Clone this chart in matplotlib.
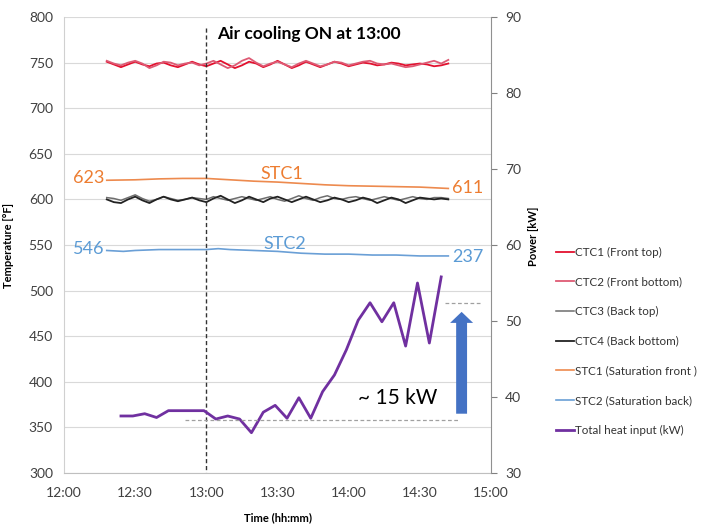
import numpy as np
import matplotlib
matplotlib.use("Agg")
import matplotlib.pyplot as plt

plt.rcParams['font.family'] = ['Lato', 'DejaVu Sans']


def to_min(hhmm):
    """minutes after 12:00 for a 'HH:MM' string"""
    h, m = hhmm.split(":")
    return (int(h) - 12) * 60 + float(m)


# thermocouples, logged every 3 min from 12:18
tc_start = "12:18"
tc_step = 3
ctc1 = [751, 748, 745, 748, 751, 748, 746,
        749, 750, 747, 745, 748, 751, 748,
        746, 749, 752, 748, 744, 747, 751,
        749, 745, 748, 752, 748, 744, 747,
        751, 748, 745, 748, 751, 749, 746,
        748, 750, 749, 747, 748, 750, 749,
        747, 748, 749, 748, 746, 747, 749]
ctc2 = [752, 749, 747, 750, 752, 749, 744,
        747, 751, 750, 747, 749, 750, 747,
        749, 752, 748, 744, 747, 752, 755,
        750, 746, 749, 751, 748, 745, 749,
        752, 749, 746, 748, 751, 750, 747,
        749, 751, 752, 749, 748, 749, 747,
        745, 746, 748, 750, 752, 749, 753]
ctc3 = [602, 601, 599, 602, 605, 601, 598,
        600, 603, 601, 599, 600, 602, 601,
        600, 603, 601, 599, 601, 603, 601,
        599, 601, 603, 600, 598, 601, 604,
        601, 599, 602, 604, 601, 600, 602,
        603, 601, 599, 601, 603, 601, 599,
        601, 603, 601, 600, 602, 602, 601]
ctc4 = [600, 597, 596, 600, 603, 599, 596,
        600, 603, 600, 598, 600, 602, 599,
        597, 601, 604, 600, 596, 599, 603,
        600, 597, 601, 603, 600, 597, 600,
        603, 600, 597, 599, 602, 600, 597,
        599, 602, 600, 596, 599, 602, 600,
        596, 599, 602, 601, 600, 601, 600]

# saturation thermocouples
stc1_times = ["12:18", "12:30", "12:40", "12:50", "13:00", "13:10", "13:20", "13:30",
              "13:40", "13:50", "14:00", "14:10", "14:20", "14:30", "14:42"]
stc1 = [621, 621.5, 622.5, 623, 623, 621.5, 620, 619, 617.5, 616, 615, 614.5, 614, 613.5, 612]
stc2_times = ["12:18", "12:25", "12:30", "12:40", "12:50", "13:00", "13:05", "13:10", "13:20",
              "13:30", "13:40", "13:50", "14:00", "14:10", "14:20", "14:30", "14:42"]
stc2 = [544, 543, 544, 545, 545, 545, 546, 545, 544, 543, 541, 540, 540, 539, 539, 538, 538]

# total heat input (kW)
heat_times = ["12:24", "12:29", "12:34", "12:39", "12:44", "12:49", "12:54", "12:59",
              "13:04", "13:09", "13:14", "13:19", "13:24", "13:29", "13:34", "13:39",
              "13:44", "13:49", "13:54", "13:59", "14:04", "14:09", "14:14", "14:19",
              "14:24", "14:29", "14:34", "14:39"]
heat_kw = [37.5, 37.5, 37.8, 37.3, 38.2, 38.2, 38.2, 38.2, 37.1, 37.5,
           37.1, 35.3, 38.0, 38.9, 37.2, 39.9, 37.2, 40.7, 42.9, 46.2,
           50.1, 52.4, 49.9, 52.4, 46.7, 55.0, 47.1, 55.8]

xticks = ["12:00", "12:30", "13:00", "13:30", "14:00", "14:30", "15:00"]
cooling_on = "13:00"

tc_t = to_min(tc_start) + tc_step * np.arange(len(ctc1))

fig = plt.figure(figsize=(7.06, 5.27), dpi=100)
ax = fig.add_axes([0.0907, 0.1025, 0.6048, 0.8652])
ax2 = ax.twinx()

l1, = ax.plot(tc_t, ctc1, color='#E3102E', lw=1.3, label='CTC1 (Front top)')
l2, = ax.plot(tc_t, ctc2, color='#DE5A74', lw=1.3, label='CTC2 (Front bottom)')
l3, = ax.plot(tc_t, ctc3, color='#6E6E6E', lw=1.1, label='CTC3 (Back top)')
l4, = ax.plot(tc_t, ctc4, color='#222222', lw=1.3, label='CTC4 (Back bottom)')
l5, = ax.plot([to_min(t) for t in stc1_times], stc1, color='#ED8A4E', lw=1.2,
              label='STC1 (Saturation front )')
l6, = ax.plot([to_min(t) for t in stc2_times], stc2, color='#6A9FD6', lw=1.2,
              label='STC2 (Saturation back)')
l7, = ax2.plot([to_min(t) for t in heat_times], heat_kw, color='#7030A0', lw=2.0,
               label='Total heat input (kW)')

ax.set_xlim(0, 180)
ax.set_ylim(300, 800)
ax.set_yticks(np.arange(300, 801, 50))
ax.set_xticks([to_min(t) for t in xticks])
ax.set_xticklabels(xticks)
ax.grid(axis='y', color='#D9D9D9', lw=0.8)
ax.set_axisbelow(True)
ax.tick_params(length=0, labelsize=10, labelcolor='#404040', pad=8)
ax.tick_params(axis='x', pad=10)
for s in ['top', 'right']:
    ax.spines[s].set_visible(False)
ax.spines['left'].set_color('#D0D0D0')
ax.spines['bottom'].set_color('#BFBFBF')

ax2.set_ylim(30, 90)
ax2.set_yticks(np.arange(30, 91, 10))
ax2.tick_params(length=4, color='#808080', labelsize=10, labelcolor='#404040', pad=6)
for s in ['top', 'left', 'bottom']:
    ax2.spines[s].set_visible(False)
ax2.spines['right'].set_color('#909090')

ax.set_ylabel('Temperature [°F]', fontsize=8, fontweight='bold')
ax.yaxis.set_label_coords(-0.117, 0.5)
ax2.set_ylabel('Power [kW]', fontsize=8, fontweight='bold')
ax2.yaxis.set_label_coords(1.087, 0.52)
ax.set_xlabel('Time (hh:mm)', fontsize=8, fontweight='bold')
ax.xaxis.set_label_coords(0.5, -0.085)

# cooling marker
ax.plot([to_min(cooling_on)] * 2, [788, 300], color='#333333', lw=1, ls=(0, (3, 2)))
ax.text(to_min(cooling_on) + 4.5, 781, 'Air cooling ON at 13:00', fontsize=12.5,
        fontweight='bold', va='center', ha='left')

# series labels
ax.text(17, 623, '623', color='#ED7D31', fontsize=13, ha='right', va='center')
ax.text(163.5, 612, '611', color='#ED7D31', fontsize=13, ha='left', va='center')
ax.text(92, 628, 'STC1', color='#ED7D31', fontsize=13, ha='center', va='center')
ax.text(17, 546, '546', color='#5B9BD5', fontsize=13, ha='right', va='center')
ax.text(163.5, 537, '237', color='#5B9BD5', fontsize=13, ha='left', va='center')
ax.text(93, 551, 'STC2', color='#5B9BD5', fontsize=13, ha='center', va='center')

# heat increase annotation
ax2.plot([51, 166.5], [37.0, 37.0], color='#A0A0A0', lw=0.9, ls=(0, (3, 2)))
ax2.plot([160.6, 176], [52.4, 52.4], color='#A0A0A0', lw=0.9, ls=(0, (3, 2)))
ax2.arrow(167.6, 37.8, 0, 13.4, width=4.6, head_width=9.7, head_length=1.45,
          length_includes_head=True, color='#4472C4', lw=0)
ax2.text(140.7, 39.9, '~ 15 kW', fontsize=15, ha='center', va='center')

fig.legend(handles=[l1, l2, l3, l4, l5, l6, l7], loc='upper left',
           bbox_to_anchor=(0.772, 0.552), frameon=False, fontsize=8.4,
           handlelength=1.55, handletextpad=0.1, labelspacing=1.6,
           labelcolor='#333333')

fig.savefig('out.png', dpi=100)
